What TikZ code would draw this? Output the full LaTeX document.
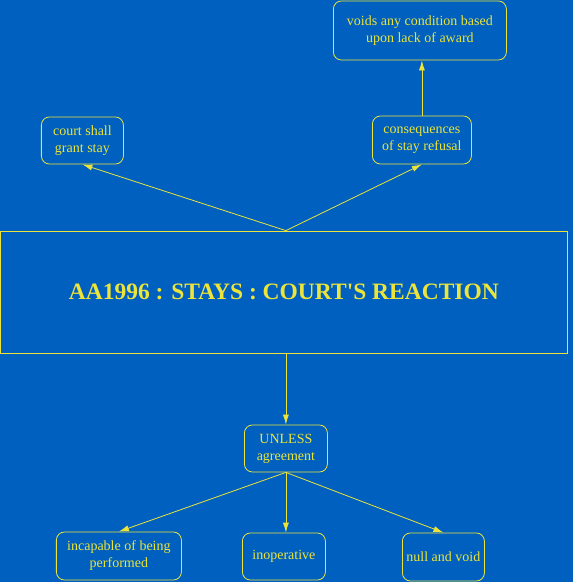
\documentclass[tikz,border=0pt]{standalone}
\usepackage{fontspec}
\setmainfont{Liberation Serif}
\usepackage{tikz}
\usetikzlibrary{arrows.meta}
\definecolor{bgblue}{RGB}{0,96,192}
\definecolor{lineyellow}{RGB}{236,228,58}

\begin{document}
\begin{tikzpicture}[x=1pt, y=-1pt,
    box/.style={draw=lineyellow, text=lineyellow, rounded corners=8pt, align=center,
                inner sep=0pt, line width=0.8pt, font=\fontsize{14}{17}\selectfont},
    link/.style={draw=lineyellow, line width=0.8pt, -{Latex[length=10pt,width=6pt]}}]
    % background
    \fill[bgblue] (0,0) rectangle (573,582);
    % central box
    \node[box, rounded corners=0pt, minimum width=567pt, minimum height=122pt,
          font=\fontsize{23.5}{28}\selectfont\bfseries] (reaction) at (283.5,292)
          {AA1996 : STAYS : COURT\textquotesingle S REACTION};
    % upper nodes
    \node[box, minimum width=82pt, minimum height=47pt] (grant) at (82,140.5) {court shall\\grant stay};
    \node[box, minimum width=99pt, minimum height=48pt] (refusal) at (421.5,140) {consequences\\of stay refusal};
    \node[box, minimum width=173pt, minimum height=59pt] (voids) at (419.5,30.5) {voids any condition based\\upon lack of award};
    % lower nodes
    \node[box, minimum width=83pt, minimum height=47pt] (unless) at (285.5,448.5) {UNLESS\\agreement};
    \node[box, minimum width=125pt, minimum height=48pt] (incapable) at (118.5,556) {incapable of being\\performed};
    \node[box, minimum width=83pt, minimum height=47pt] (inoperative) at (283.5,556.5) {inoperative};
    \node[box, minimum width=82pt, minimum height=48pt] (nullvoid) at (443,557) {null and void};
    % connectors
    \coordinate (top) at (reaction.north -| unless.north);
    \coordinate (bottom) at (reaction.south -| unless.north);
    \draw[link] (top) -- (grant.south);
    \draw[link] (top) -- (refusal.south);
    \draw[link] (refusal.north) -- (refusal.north |- voids.south);
    \draw[link] (bottom) -- (unless.north);
    \draw[link] (unless.south) -- (incapable.north);
    \draw[link] (unless.south) -- (unless.south |- inoperative.north);
    \draw[link] (unless.south) -- (nullvoid.north);
\end{tikzpicture}
\end{document}
